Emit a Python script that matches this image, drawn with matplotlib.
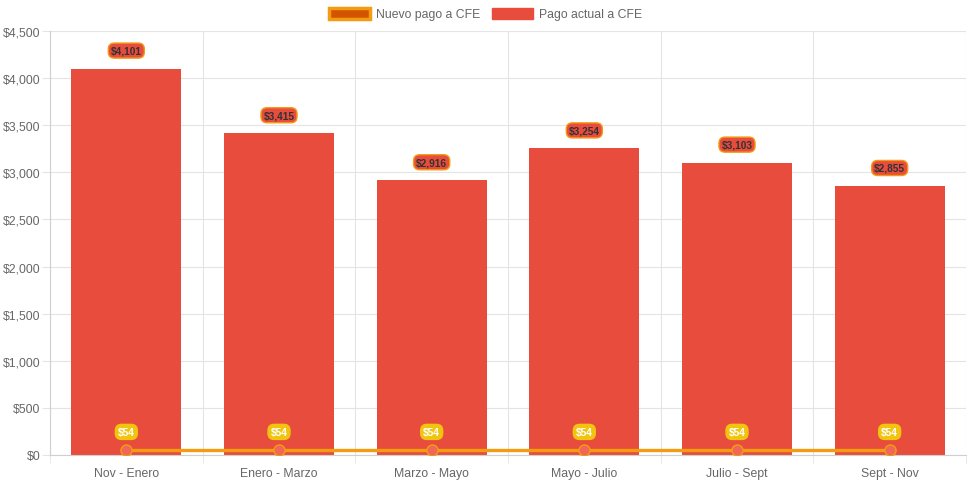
import matplotlib
matplotlib.use("Agg")
import matplotlib.pyplot as plt
from matplotlib.patches import Patch
from matplotlib.ticker import FuncFormatter

categories = ["Nov - Enero", "Enero - Marzo", "Marzo - Mayo", "Mayo - Julio", "Julio - Sept", "Sept - Nov"]
pago_actual = [4101, 3415, 2916, 3254, 3103, 2855]
nuevo_pago = [54, 54, 54, 54, 54, 54]
yticks = [0, 500, 1000, 1500, 2000, 2500, 3000, 3500, 4000, 4500]

plt.rcParams['font.family'] = ['Liberation Sans', 'DejaVu Sans']

fig = plt.figure(figsize=(9.71, 4.85), dpi=100)
ax = fig.add_axes([50/971, 29/485, 916/971, 424/485])

x = list(range(len(categories)))
red = "#e74c3c"
orange = "#f39c12"
grid = "#e4e4e4"
txt = "#666666"

ax.bar(x, pago_actual, width=0.72, color=red, zorder=2)
ax.plot(x, nuevo_pago, color=orange, lw=2.4, zorder=3,
        marker='o', ms=8, markerfacecolor="#f0675a", markeredgecolor=orange, markeredgewidth=1.0)

for xi, v in zip(x, pago_actual):
    ax.annotate(f"${v:,}", (xi, v), xytext=(0, 18), textcoords="offset pixels",
                ha='center', va='center', fontsize=7.3, fontweight='bold', color="#333333",
                bbox=dict(boxstyle="round,pad=0.25,rounding_size=0.6", fc=red, ec=orange, lw=1), zorder=5)
for xi, v in zip(x, nuevo_pago):
    ax.annotate(f"${v:,}", (xi, v), xytext=(0, 18), textcoords="offset pixels",
                ha='center', va='center', fontsize=7.3, fontweight='bold', color="white",
                bbox=dict(boxstyle="round,pad=0.25,rounding_size=0.6", fc="#f1c40f", ec="#f1c40f", lw=1), zorder=5)

ax.set_xlim(-0.5, len(categories) - 0.5)
ax.set_ylim(0, 4500)
ax.set_yticks(yticks)
ax.yaxis.set_major_formatter(FuncFormatter(lambda v, p: f"${int(v):,}"))
ax.set_xticks(x)
ax.set_xticklabels(categories)
ax.set_xticks([i - 0.5 for i in range(len(categories) + 1)], minor=True)

ax.grid(True, axis='y', color=grid, lw=0.8, zorder=0)
ax.grid(True, axis='x', which='minor', color=grid, lw=0.8, zorder=0)
ax.grid(False, axis='x', which='major')
ax.set_axisbelow(True)

ax.tick_params(axis='x', which='major', length=0, labelsize=8.8, labelcolor=txt, pad=9)
ax.tick_params(axis='x', which='minor', length=5.5, color=grid)
ax.tick_params(axis='y', length=5.5, color=grid, labelsize=8.8, labelcolor=txt, pad=1.5)

for s in ['top', 'right']:
    ax.spines[s].set_visible(False)
for s in ['left', 'bottom']:
    ax.spines[s].set_color("#cfcfcf")
    ax.spines[s].set_linewidth(0.8)

handles = [Patch(facecolor="#d35400", edgecolor=orange, lw=2.5, label="Nuevo pago a CFE"),
           Patch(facecolor=red, edgecolor=red, label="Pago actual a CFE")]
fig.legend(handles=handles, loc='center', bbox_to_anchor=(0.5, 1 - 15/485), ncol=2,
           frameon=False, fontsize=8.8, labelcolor=txt, handlelength=3.3, handleheight=1.0,
           columnspacing=1.0, handletextpad=0.5)

fig.savefig("out.png", dpi=100)
